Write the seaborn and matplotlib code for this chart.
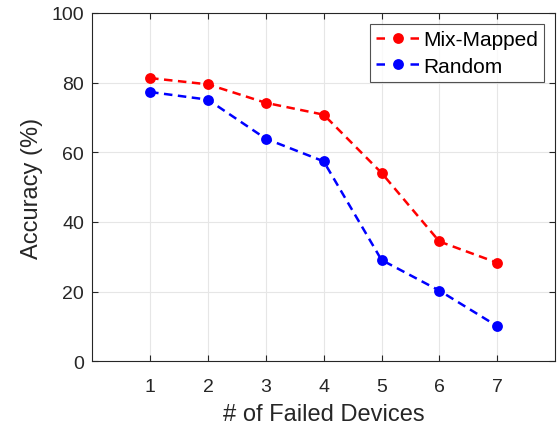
import matplotlib
matplotlib.use("Agg")
import matplotlib.pyplot as plt
import seaborn as sns
import pandas as pd

# Accuracy vs number of failed devices for two mapping strategies
failed_devices = [1, 2, 3, 4, 5, 6, 7]
mix_mapped = [81.3, 79.5, 74.2, 70.8, 54.1, 34.4, 28.3]
random_map = [77.3, 75.1, 63.9, 57.4, 29.1, 20.3, 10.1]
series_names = ["Mix-Mapped", "Random"]
series_colors = ["#ff0000", "#0000ff"]
y_ticks = [0, 20, 40, 60, 80, 100]

df = pd.DataFrame({
    "devices": failed_devices * 2,
    "accuracy": mix_mapped + random_map,
    "method": [series_names[0]] * len(failed_devices) + [series_names[1]] * len(failed_devices),
})

sns.set_theme(style="white")
plt.rcParams["font.family"] = ["Liberation Sans", "DejaVu Sans"]
text_color = "#262626"

fig = plt.figure(figsize=(5.59, 4.35), dpi=100)
ax = fig.add_axes([0.165, 0.167, 0.828, 0.801])

sns.lineplot(
    data=df, x="devices", y="accuracy", hue="method",
    palette=dict(zip(series_names, series_colors)),
    marker="o", markersize=7.8, markeredgewidth=0,
    linewidth=1.8, ax=ax,
)
for line in ax.get_lines():
    line.set_linestyle((0, (3.4, 2.2)))

ax.set_xlim(0, 8)
ax.set_ylim(0, 100)
ax.set_xticks(failed_devices)
ax.set_yticks(y_ticks)
ax.grid(True, color="#e6e6e6", linewidth=0.8)
ax.set_axisbelow(True)

for side in ["left", "right", "top", "bottom"]:
    ax.spines[side].set_visible(True)
    ax.spines[side].set_color(text_color)
    ax.spines[side].set_linewidth(0.8)

ax.tick_params(axis="both", direction="in", length=4, width=0.8,
               colors=text_color, labelsize=14, top=True, right=True,
               left=True, bottom=True)
ax.tick_params(axis="x", pad=12)
ax.tick_params(axis="y", pad=6)

ax.set_xlabel("# of Failed Devices", fontsize=17, color=text_color, labelpad=6)
ax.set_ylabel("Accuracy (%)", fontsize=17, color=text_color, labelpad=6)

handles, labels = ax.get_legend_handles_labels()
leg = ax.legend(handles, labels, loc="upper right", bbox_to_anchor=(0.976, 0.968),
                fontsize=15, frameon=True, fancybox=False,
                handlelength=2.1, handletextpad=0.15, borderpad=0.3,
                labelspacing=0.35, borderaxespad=0.0)
leg.get_frame().set_edgecolor(text_color)
leg.get_frame().set_linewidth(0.8)
for t in leg.get_texts():
    t.set_color("black")
# legend handle: one dash on each side of the marker
for h in leg.get_lines():
    h.set_linestyle((0, (3.4, 10.2)))

fig.savefig("out.png", dpi=100)
